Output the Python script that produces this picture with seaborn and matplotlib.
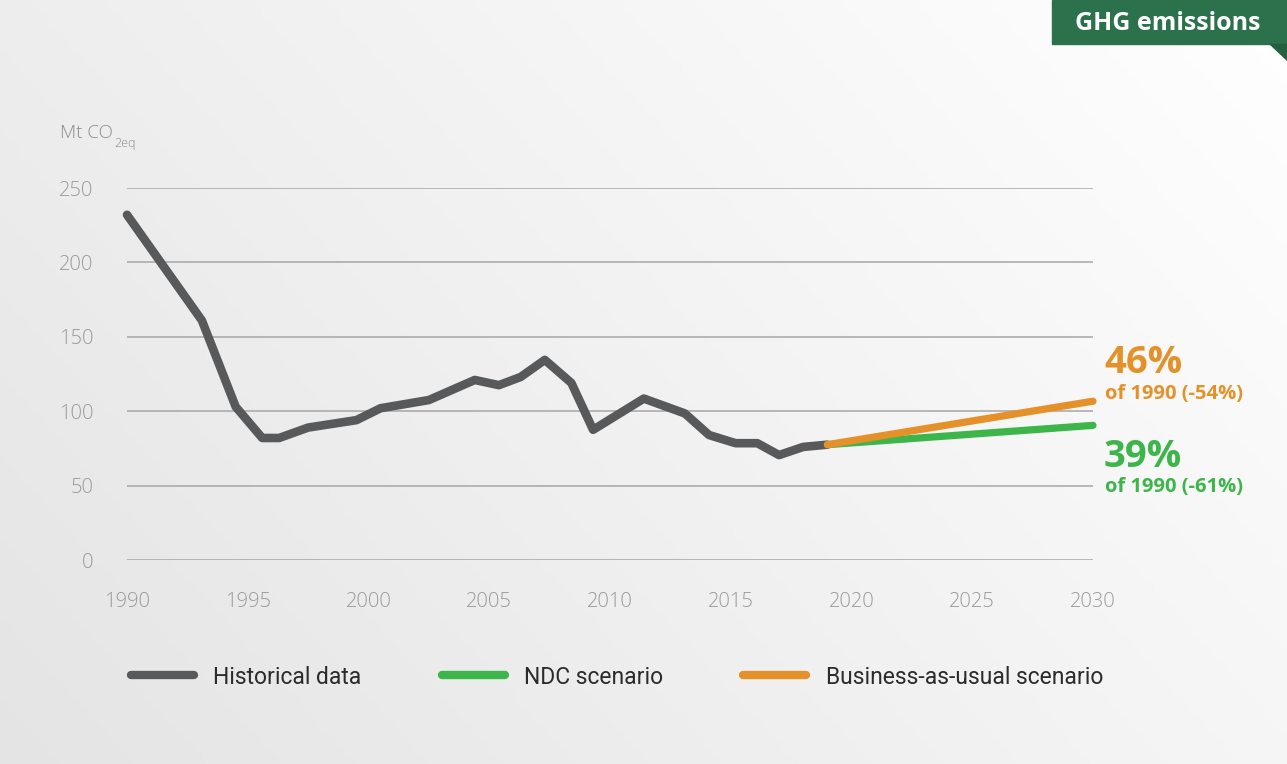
import numpy as np
import pandas as pd
import seaborn as sns
import matplotlib
matplotlib.use("Agg")
import matplotlib.pyplot as plt
from matplotlib.lines import Line2D
from matplotlib.patches import Polygon, Rectangle

# Historical emissions, Mt CO2eq
hist_years = [1990.0, 1993.1, 1994.5, 1995.6, 1996.3, 1997.5, 1999.5, 2000.5,
              2002.5, 2004.4, 2005.4, 2006.3, 2007.3, 2008.4, 2009.3, 2011.4,
              2013.1, 2014.1, 2015.2, 2016.1, 2017.0, 2018.0, 2019.0]
hist_values = [232, 161, 103, 82, 82, 89, 94, 102,
               107.5, 121, 117.5, 123, 134.5, 119, 87.5, 108.5,
               98.5, 84, 78.5, 78.5, 70.5, 76, 77.5]

# Scenario end points expressed as share of the 1990 level
target_year = 2030
ndc_share = 0.39
bau_share = 0.46

series_names = ["Historical data", "NDC scenario", "Business-as-usual scenario"]
series_colors = ["#58595b", "#3db54a", "#e5912a"]

x_ticks = [1990, 1995, 2000, 2005, 2010, 2015, 2020, 2025, 2030]
y_ticks = [0, 50, 100, 150, 200, 250]

base_1990 = hist_values[0]
start_year, start_val = hist_years[-1], hist_values[-1]
ndc_end = base_1990 * ndc_share
bau_end = base_1990 * bau_share

df = pd.concat([
    pd.DataFrame({"year": hist_years, "value": hist_values, "series": series_names[0]}),
    pd.DataFrame({"year": [start_year, target_year], "value": [start_val, ndc_end],
                  "series": series_names[1]}),
    pd.DataFrame({"year": [start_year, target_year], "value": [start_val, bau_end],
                  "series": series_names[2]}),
], ignore_index=True)

sns.set_theme(style="white")
plt.rcParams["font.family"] = ["Open Sans", "DejaVu Sans"]

W, H = 1287, 764
fig = plt.figure(figsize=(W / 100, H / 100), dpi=100)

# soft diagonal background gradient
bg = fig.add_axes([0, 0, 1, 1], zorder=-10)
yy, xx = np.mgrid[0:1:200j, 0:1:300j]
t = np.clip(0.65 * xx + 0.35 * yy, 0, 1)
c0 = np.array([0.895, 0.895, 0.895])
c1 = np.array([1.0, 1.0, 1.0])
img = c0[None, None, :] * (1 - t[..., None]) + c1[None, None, :] * t[..., None]
bg.imshow(img, origin="lower", extent=[0, 1, 0, 1], aspect="auto")
bg.set_axis_off()

ax = fig.add_axes([127 / W, 1 - 560 / H, (1093 - 127) / W, (560 - 188) / H])
ax.set_facecolor("none")

sns.lineplot(data=df, x="year", y="value", hue="series", hue_order=series_names,
             palette=series_colors, linewidth=6.2, ax=ax, legend=False,
             solid_capstyle="round", solid_joinstyle="round", sort=False,
             estimator=None, zorder=3)
for ln in ax.get_lines():
    ln.set_clip_on(False)
ax.get_lines()[1].set_linewidth(5.2)
ax.get_lines()[2].set_linewidth(5.2)

ax.set_xlim(1990, 2030)
ax.set_ylim(0, 250)
ax.set_xticks(x_ticks)
ax.set_yticks(y_ticks)
ax.grid(axis="y", color="#a6a6a6", linewidth=1.1, zorder=0)
ax.grid(axis="x", visible=False)
for s in ax.spines.values():
    s.set_visible(False)
ax.tick_params(axis="both", length=0, labelsize=14.5, labelcolor="#9a9a9a")
ax.tick_params(axis="x", pad=23)
ax.tick_params(axis="y", pad=24)
for lab in ax.get_xticklabels() + ax.get_yticklabels():
    lab.set_fontweight("light")
ax.set_xlabel("")
ax.set_ylabel("")

# unit label with subscript placed right after the main text
unit = fig.text(60 / W, 1 - 133 / H, "Mt CO", fontsize=13.5, color="#8c8c8c",
                ha="left", va="center", fontweight="light")
fig.canvas.draw()
ext = unit.get_window_extent(renderer=fig.canvas.get_renderer())
fig.text(ext.x1 / W + 1 / W, 1 - 143 / H, "2eq", fontsize=9, color="#8c8c8c",
         ha="left", va="center", fontweight="light")

# end-of-line annotations
fig.text(1104 / W, 1 - 363 / H, f"{round(bau_share * 100)}%", fontsize=27.5,
         fontweight="bold", color=series_colors[2], ha="left", va="center")
fig.text(1105 / W, 1 - 394 / H, f"of 1990 (-{round((1 - bau_share) * 100)}%)",
         fontsize=14.5, fontweight="bold", color=series_colors[2], ha="left", va="center")
fig.text(1104 / W, 1 - 457 / H, f"{round(ndc_share * 100)}%", fontsize=27.5,
         fontweight="bold", color=series_colors[1], ha="left", va="center")
fig.text(1105 / W, 1 - 487 / H, f"of 1990 (-{round((1 - ndc_share) * 100)}%)",
         fontsize=14.5, fontweight="bold", color=series_colors[1], ha="left", va="center")

# title tag in the upper right corner
tag_color = "#2b724c"
fig.patches.append(Rectangle((1052 / W, 1 - 44 / H), (W - 1052) / W, 44 / H,
                             transform=fig.transFigure, color=tag_color, zorder=5))
fig.patches.append(Polygon([(1270 / W, 1 - 44 / H), (1.0, 1 - 44 / H), (1.0, 1 - 60 / H)],
                           closed=True, transform=fig.transFigure,
                           color="#24603f", zorder=5))
fig.text(1168 / W, 1 - 23 / H, "GHG emissions", fontsize=18, fontweight="bold",
         color="white", ha="center", va="center", zorder=6)

# legend
handles = [Line2D([0], [0], color=c, linewidth=6, solid_capstyle="round")
           for c in series_colors]
leg = fig.legend(handles, series_names, loc="center", bbox_to_anchor=(617 / W, 1 - 677 / H),
                 ncol=3, frameon=False, handlelength=2.75, handletextpad=0.85,
                 columnspacing=3.5, prop={"family": ["Roboto", "DejaVu Sans"], "size": 16.5})
for txt in leg.get_texts():
    txt.set_color("#2b2b2b")

fig.savefig("out.png", dpi=100)
